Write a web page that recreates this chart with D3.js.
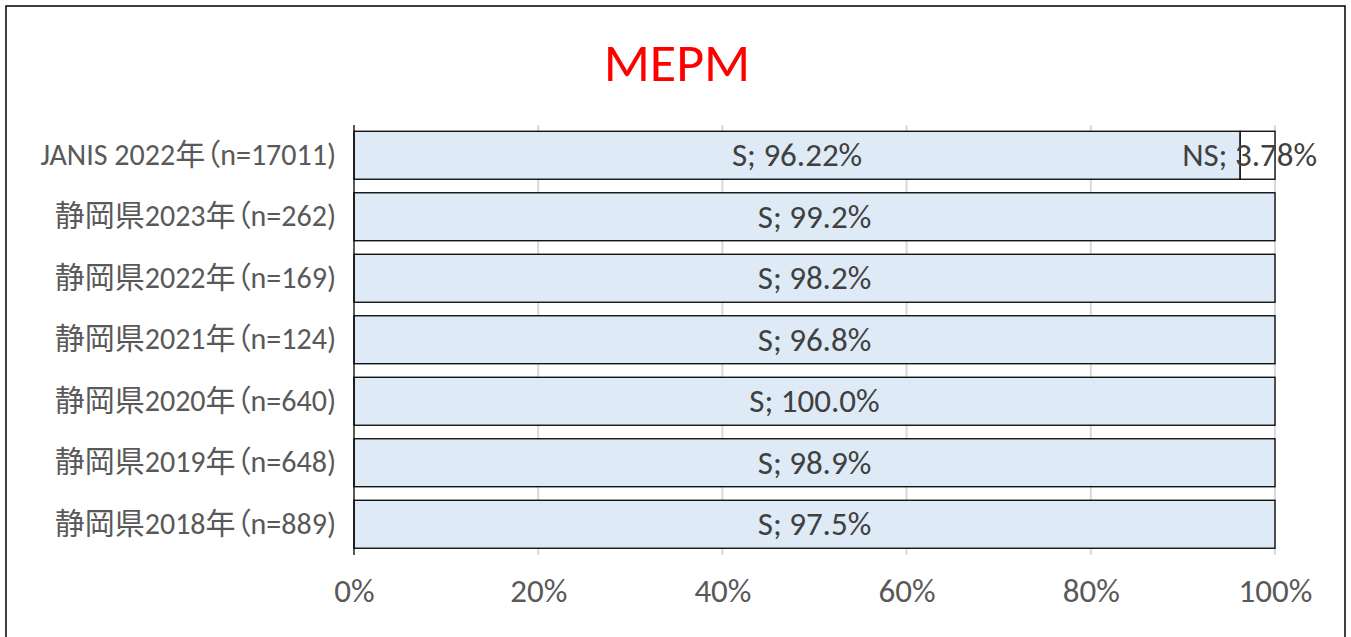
<!DOCTYPE html>
<meta charset="utf-8">
<style>
    body { margin: 0; background: #fff; }
    .axis path, .axis line { fill: none; stroke: none; }
    .axis text { font-family: Carlito, "Noto Sans CJK JP", sans-serif; fill: #595959; font-feature-settings: "palt"; }
    .grid line { stroke: #d9d9d9; stroke-width: 2; }
    .plottitle { font-family: Carlito, "Noto Sans", sans-serif; font-size: 54px; fill: #ff0000; }
    .barlabel { font-family: Carlito, "Noto Sans", sans-serif; font-size: 33px; fill: #404040; }
</style>
<body>
<svg></svg>

<script src="https://d3js.org/d3.v7.min.js"></script>
<script type='text/javascript'>

    var categories = ['JANIS 2022年（n=17011)', '静岡県2023年（n=262)', '静岡県2022年（n=169)',
                      '静岡県2021年（n=124)', '静岡県2020年（n=640)', '静岡県2019年（n=648)',
                      '静岡県2018年（n=889)'];
    var sValues = [96.22, 99.2, 98.2, 96.8, 100.0, 98.9, 97.5];
    var sLabels = ['S; 96.22%', 'S; 99.2%', 'S; 98.2%', 'S; 96.8%', 'S; 100.0%', 'S; 98.9%', 'S; 97.5%'];
    var nsValues = [3.78, null, null, null, null, null, null];
    var nsLabels = ['NS; 3.78%', null, null, null, null, null, null];
    var xTicks = [0, 0.2, 0.4, 0.6, 0.8, 1];

    var W = 1351, H = 637;
    var svg = d3.select('svg').attr('width', W).attr('height', H);

    // outer frame
    svg.append('rect')
        .attr('x', 6).attr('y', 6)
        .attr('width', 1339).attr('height', 660)
        .attr('fill', 'none')
        .attr('stroke', '#000')
        .attr('stroke-width', 1.5);

    var x = d3.scaleLinear().domain([0, 1]).range([354, 1275]);
    var y = d3.scaleBand().domain(categories).range([124.5, 555]).paddingInner(0.22).paddingOuter(0.11);

    svg.append('text')
        .attr('class', 'plottitle')
        .attr('x', 677).attr('y', 63)
        .attr('text-anchor', 'middle')
        .attr('dominant-baseline', 'central')
        .text('MEPM');

    // gridlines
    svg.append('g').attr('class', 'grid')
        .selectAll('line')
        .data(xTicks.slice(1))
        .enter().append('line')
        .attr('x1', function(d) { return x(d); })
        .attr('x2', function(d) { return x(d); })
        .attr('y1', 125).attr('y2', 555);

    var rows = categories.map(function(c, i) {
        var total = sValues[i] + (nsValues[i] || 0);
        return {cat: c, s: sValues[i] / total, ns: (nsValues[i] || 0) / total,
                sLabel: sLabels[i], nsLabel: nsLabels[i]};
    });

    var bars = svg.append('g').selectAll('g.row')
        .data(rows)
        .enter().append('g').attr('class', 'row');

    bars.append('rect')
        .attr('x', x(0))
        .attr('y', function(d) { return y(d.cat); })
        .attr('width', function(d) { return x(d.s) - x(0); })
        .attr('height', y.bandwidth())
        .attr('fill', '#deebf7')
        .attr('stroke', '#000')
        .attr('stroke-width', 1.3);

    bars.filter(function(d) { return d.ns > 0; })
        .append('rect')
        .attr('x', function(d) { return x(d.s); })
        .attr('y', function(d) { return y(d.cat); })
        .attr('width', function(d) { return x(d.s + d.ns) - x(d.s); })
        .attr('height', y.bandwidth())
        .attr('fill', '#fff')
        .attr('stroke', '#000')
        .attr('stroke-width', 1.3);

    bars.append('text')
        .attr('class', 'barlabel')
        .attr('x', function(d) { return (x(0) + x(d.s)) / 2; })
        .attr('y', function(d) { return y(d.cat) + y.bandwidth() / 2; })
        .attr('text-anchor', 'middle')
        .attr('dominant-baseline', 'central')
        .text(function(d) { return d.sLabel; });

    bars.filter(function(d) { return d.ns > 0; })
        .append('text')
        .attr('class', 'barlabel')
        .attr('x', function(d) { return (x(d.s) + x(d.s + d.ns)) / 2 - 8; })
        .attr('y', function(d) { return y(d.cat) + y.bandwidth() / 2; })
        .attr('text-anchor', 'middle')
        .attr('dominant-baseline', 'central')
        .text(function(d) { return d.nsLabel; });

    // axes
    var xAxis = svg.append('g').attr('class', 'x axis')
        .attr('transform', 'translate(0,555)')
        .call(d3.axisBottom(x).tickValues(xTicks).tickFormat(d3.format('.0%')).tickSize(0).tickPadding(24));
    xAxis.selectAll('text').style('font-size', '33px');

    var yAxis = svg.append('g').attr('class', 'y axis')
        .attr('transform', 'translate(' + x(0) + ',0)')
        .call(d3.axisLeft(y).tickSize(0).tickPadding(18));
    yAxis.selectAll('text').style('font-size', '30px');

    svg.append('line')
        .attr('x1', x(0)).attr('x2', x(0))
        .attr('y1', 125).attr('y2', 555)
        .attr('stroke', '#000').attr('stroke-width', 1.3);

</script>
